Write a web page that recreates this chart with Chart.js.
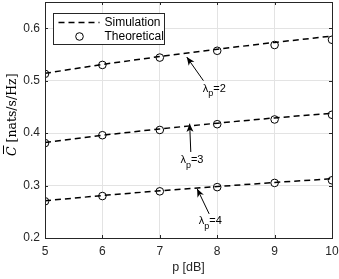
<!DOCTYPE html>
<html>
<head>
<meta charset="utf-8">
<script src="https://cdn.jsdelivr.net/npm/chart.js@4/dist/chart.umd.min.js"></script>
<style>
  html, body { margin: 0; padding: 0; background: #fff; overflow: hidden; }
  #wrap { width: 339px; height: 282px; margin-top: -3px; }
</style>
</head>
<body>
<div id="wrap"><canvas id="cap-chart"></canvas></div>
<script>
// data
var pValues = [5, 6, 7, 8, 9, 10];
var yTicks = [0.2, 0.3, 0.4, 0.5, 0.6];
var simLambda2 = [0.514, 0.531, 0.546, 0.560, 0.573, 0.585];
var simLambda3 = [0.382, 0.396, 0.408, 0.419, 0.429, 0.438];
var simLambda4 = [0.271, 0.281, 0.290, 0.298, 0.306, 0.313];
var theoLambda2 = [0.513, 0.530, 0.544, 0.557, 0.568, 0.578];
var theoLambda3 = [0.381, 0.396, 0.406, 0.417, 0.426, 0.435];
var theoLambda4 = [0.270, 0.280, 0.289, 0.297, 0.305, 0.310];

// label, arrow tip, arrow tail, text position (data units)
var notes = [
  { sub: '2', tip: [7.47, 0.545], tail: [7.76, 0.500], text: [7.95, 0.485] },
  { sub: '3', tip: [7.52, 0.418], tail: [7.54, 0.364], text: [7.56, 0.348] },
  { sub: '4', tip: [7.65, 0.294], tail: [7.86, 0.246], text: [7.88, 0.232] }
];

function points(ys) {
  return pValues.map(function(x, i) { return { x: x, y: ys[i] }; });
}

function simSet(ys) {
  return {
    data: points(ys),
    borderColor: '#000',
    borderWidth: 1.5,
    borderDash: [6, 4],
    pointRadius: 0,
    fill: false,
    tension: 0
  };
}

function theoSet(ys) {
  return {
    data: points(ys),
    showLine: false,
    borderColor: '#000',
    backgroundColor: '#fff',
    pointRadius: 3.8,
    pointBorderWidth: 1,
    pointStyle: 'circle'
  };
}

var font = "'Liberation Sans', Arial, sans-serif";

// box, inward ticks, legend and annotations
var decorPlugin = {
  id: 'decor',
  afterDatasetsDraw: function(chart) {
    var ctx = chart.ctx;
    var a = chart.chartArea;
    var xs = chart.scales.x;
    var ys = chart.scales.y;
    ctx.save();

    // ticks inside
    ctx.strokeStyle = '#262626';
    ctx.lineWidth = 1;
    ctx.beginPath();
    pValues.forEach(function(v) {
      var px = Math.round(xs.getPixelForValue(v)) + 0.5;
      ctx.moveTo(px, a.bottom); ctx.lineTo(px, a.bottom - 3);
      ctx.moveTo(px, a.top); ctx.lineTo(px, a.top + 3);
    });
    yTicks.forEach(function(v) {
      var py = Math.round(ys.getPixelForValue(v)) + 0.5;
      ctx.moveTo(a.left, py); ctx.lineTo(a.left + 3, py);
      ctx.moveTo(a.right, py); ctx.lineTo(a.right - 3, py);
    });
    ctx.stroke();

    // axes box
    ctx.strokeStyle = '#262626';
    ctx.strokeRect(Math.round(a.left) + 0.5, Math.round(a.top) + 0.5,
      Math.round(a.right - a.left), Math.round(a.bottom - a.top));

    // legend
    var lx = 53.5, ly = a.top + 11.5, lw = 111, lh = 31;
    ctx.fillStyle = '#fff';
    ctx.fillRect(lx, ly, lw, lh);
    ctx.strokeStyle = '#262626';
    ctx.lineWidth = 1;
    ctx.strokeRect(lx, ly, lw, lh);
    ctx.strokeStyle = '#000';
    ctx.lineWidth = 1.5;
    ctx.setLineDash([6, 4]);
    ctx.beginPath();
    ctx.moveTo(lx + 5, ly + 9); ctx.lineTo(lx + 46, ly + 9);
    ctx.stroke();
    ctx.setLineDash([]);
    ctx.lineWidth = 1;
    ctx.fillStyle = '#fff';
    ctx.beginPath();
    ctx.arc(lx + 26, ly + 23, 3.8, 0, Math.PI * 2);
    ctx.fill(); ctx.stroke();
    ctx.fillStyle = '#000';
    ctx.font = '12px ' + font;
    ctx.textAlign = 'left';
    ctx.textBaseline = 'middle';
    ctx.fillText('Simulation', lx + 51, ly + 9);
    ctx.fillText('Theoretical', lx + 51, ly + 23);

    // annotations
    notes.forEach(function(n) {
      var x1 = xs.getPixelForValue(n.tail[0]), y1 = ys.getPixelForValue(n.tail[1]);
      var x2 = xs.getPixelForValue(n.tip[0]), y2 = ys.getPixelForValue(n.tip[1]);
      var ang = Math.atan2(y2 - y1, x2 - x1);
      ctx.strokeStyle = '#000';
      ctx.lineWidth = 1;
      ctx.beginPath();
      ctx.moveTo(x1, y1); ctx.lineTo(x2, y2);
      ctx.stroke();
      ctx.fillStyle = '#000';
      ctx.beginPath();
      ctx.moveTo(x2, y2);
      ctx.lineTo(x2 - 9 * Math.cos(ang - 0.4), y2 - 9 * Math.sin(ang - 0.4));
      ctx.lineTo(x2 - 6 * Math.cos(ang), y2 - 6 * Math.sin(ang));
      ctx.lineTo(x2 - 9 * Math.cos(ang + 0.4), y2 - 9 * Math.sin(ang + 0.4));
      ctx.closePath();
      ctx.fill();

      var tx = xs.getPixelForValue(n.text[0]), ty = ys.getPixelForValue(n.text[1]);
      ctx.font = '11px ' + font;
      ctx.textBaseline = 'middle';
      var w1 = ctx.measureText('\u03bb').width;
      ctx.font = '9px ' + font;
      var w2 = ctx.measureText('p').width;
      ctx.font = '11px ' + font;
      var w3 = ctx.measureText('=' + n.sub).width;
      var sx = tx - (w1 + w2 + w3) / 2;
      ctx.textAlign = 'left';
      ctx.fillText('\u03bb', sx, ty);
      ctx.font = '9px ' + font;
      ctx.fillText('p', sx + w1, ty + 5);
      ctx.font = '11px ' + font;
      ctx.fillText('=' + n.sub, sx + w1 + w2, ty);
    });

    // y label
    ctx.save();
    ctx.translate(13, ys.getPixelForValue(0.435));
    ctx.rotate(-Math.PI / 2);
    ctx.fillStyle = '#000';
    ctx.font = "12.5px 'DejaVu Serif', 'Liberation Serif', serif";
    var rest = ' [nats/s/Hz]';
    var rw = ctx.measureText(rest).width;
    ctx.font = "italic 12.5px 'DejaVu Serif', 'Liberation Serif', serif";
    var cw = ctx.measureText('C').width;
    var sx0 = -(cw + rw) / 2;
    ctx.textAlign = 'left';
    ctx.textBaseline = 'middle';
    ctx.fillText('C', sx0, 0);
    ctx.fillRect(sx0 + 2, -10, cw - 1, 1);
    ctx.font = "12.5px 'DejaVu Serif', 'Liberation Serif', serif";
    ctx.fillText(rest, sx0 + cw, 0);
    ctx.restore();

    ctx.restore();
  }
};

var chart = new Chart(document.getElementById('cap-chart'), {
  type: 'line',
  data: {
    datasets: [
      simSet(simLambda2), simSet(simLambda3), simSet(simLambda4),
      theoSet(theoLambda2), theoSet(theoLambda3), theoSet(theoLambda4)
    ]
  },
  options: {
    responsive: true,
    maintainAspectRatio: false,
    animation: false,
    events: [],
    layout: { padding: { top: 0, right: 7, left: 0, bottom: 0 } },
    plugins: { legend: { display: false }, tooltip: { enabled: false } },
    scales: {
      x: {
        type: 'linear',
        min: 5,
        max: 10,
        afterBuildTicks: function(scale) {
          scale.ticks = pValues.map(function(v) { return { value: v }; });
        },
        afterFit: function(scale) {
          scale.height = 41;
          scale.paddingLeft = 0;
          scale.paddingRight = 0;
        },
        grid: { color: '#e3e3e3', drawTicks: false },
        border: { display: false },
        ticks: { color: '#262626', font: { family: font, size: 12 }, padding: 6 },
        title: { display: true, text: 'p [dB]', color: '#262626', font: { family: font, size: 12.5 }, padding: { top: 2 } }
      },
      y: {
        type: 'linear',
        min: 0.2,
        max: 0.65,
        afterBuildTicks: function(scale) {
          scale.ticks = yTicks.map(function(v) { return { value: v }; });
        },
        afterFit: function(scale) {
          scale.width = 45;
          scale.paddingTop = 0;
          scale.paddingBottom = 0;
        },
        grid: { color: '#e3e3e3', drawTicks: false },
        border: { display: false },
        ticks: {
          color: '#262626', font: { family: font, size: 12 }, padding: 5,
          callback: function(v) { return v.toFixed(1); }
        }
      }
    }
  },
  plugins: [decorPlugin]
});
</script>
</body>
</html>
